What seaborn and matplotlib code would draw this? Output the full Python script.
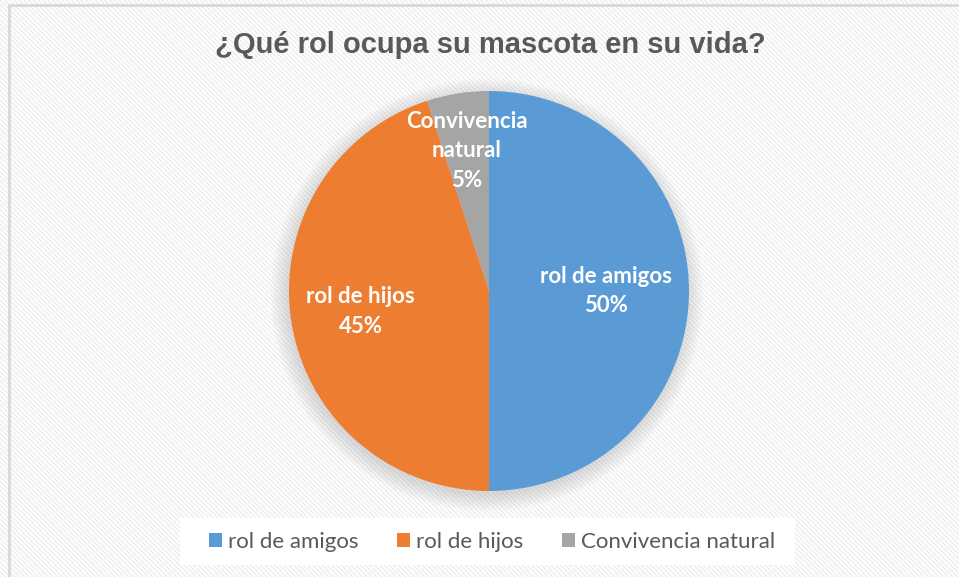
import numpy as np
import seaborn as sns
import matplotlib.pyplot as plt
from matplotlib.patches import Rectangle, Circle

# data
categories = ['rol de amigos', 'rol de hijos', 'Convivencia natural']
values = [50, 45, 5]
slice_labels = ['rol de amigos\n50%', 'rol de hijos\n45%', 'Convivencia\nnatural\n5%']
label_dist = [0.585, 0.65, 0.71]
colors = ['#5B9BD5', '#ED7D31', '#A5A5A5']

sns.set_theme(style='white')
plt.rcParams['font.family'] = ['Lato', 'DejaVu Sans']
plt.rcParams['hatch.linewidth'] = 0.9

fig = plt.figure(figsize=(9.59, 5.77), dpi=100)

# hatched background + border
bg = Rectangle((0, 0), 1, 1, transform=fig.transFigure, facecolor='white',
               edgecolor='#ebebeb', hatch='\\' * 7, linewidth=0, zorder=-10)
fig.patches.append(bg)
border = Rectangle((9 / 959, -0.01), 1.0, 1 - 5 / 577 + 0.01, transform=fig.transFigure,
                   facecolor='none', edgecolor='#d9d9d9', linewidth=2, zorder=-9)
fig.patches.append(border)
# white legend box
legbox = Rectangle((180 / 959, 1 - 565 / 577), 615 / 959, 47 / 577, transform=fig.transFigure,
                   facecolor='white', edgecolor='none', zorder=-8)
fig.patches.append(legbox)

cx, cy, r = 489, 577 - 291, 200
pad = 1.1
ax = fig.add_axes([(cx - r * pad) / 959, (cy - r * pad) / 577, 2 * r * pad / 959, 2 * r * pad / 577])

# soft shadow
for rr in np.linspace(1.08, 1.0, 8):
    ax.add_patch(Circle((-0.01, -0.02), rr, facecolor='#7f7f7f', edgecolor='none',
                        alpha=0.035, zorder=0))

wedges, _ = ax.pie(values, colors=colors, startangle=90, counterclock=False,
                   radius=1.0, wedgeprops=dict(linewidth=0))
for w in wedges:
    w.set_zorder(2)

ax.set_xlim(-pad, pad)
ax.set_ylim(-pad, pad)
ax.set_aspect('equal')
ax.axis('off')
ax.patch.set_alpha(0)

for w, lab, d in zip(wedges, slice_labels, label_dist):
    ang = np.deg2rad((w.theta1 + w.theta2) / 2)
    ax.text(d * np.cos(ang), d * np.sin(ang), lab, ha='center', va='center',
            color='white', fontsize=16, fontweight='bold', linespacing=1.5, zorder=3)

fig.text(490 / 959, 1 - 45 / 577, '¿Qué rol ocupa su mascota en su vida?',
         ha='center', va='center', fontsize=21, fontweight='bold', color='#595959',
         family=['Liberation Sans', 'DejaVu Sans'])

leg = fig.legend(wedges, categories, loc='center', bbox_to_anchor=(492 / 959, 1 - 542 / 577),
                 ncol=3, frameon=False, fontsize=16, handlelength=0.6, handleheight=0.6,
                 handletextpad=0.25, columnspacing=1.75)
for t in leg.get_texts():
    t.set_color('#595959')

fig.savefig('out.png', dpi=100)
